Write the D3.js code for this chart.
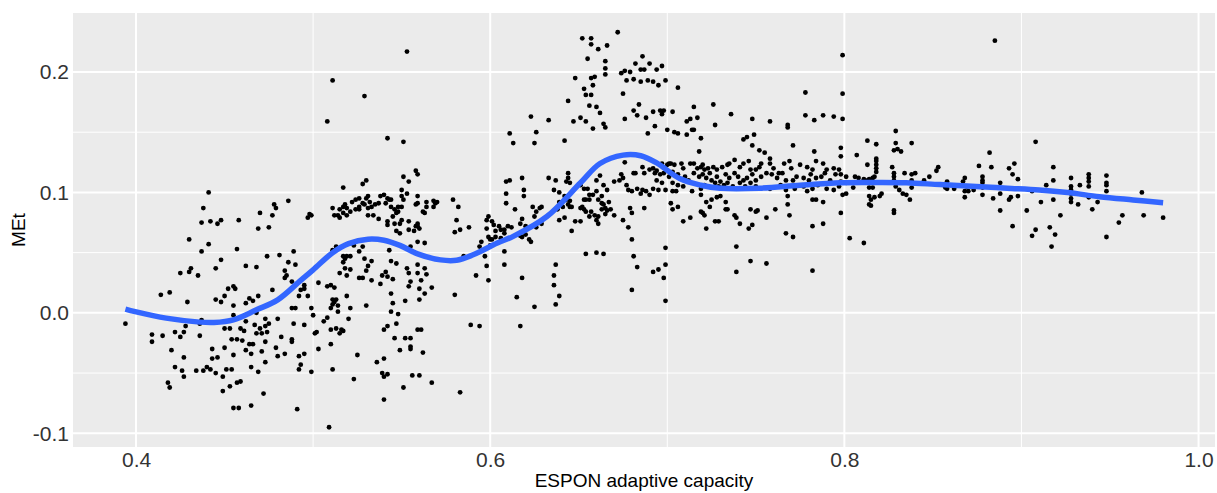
<!DOCTYPE html>
<html>
<head>
<meta charset="utf-8">
<script src="https://cdn.jsdelivr.net/npm/d3@7"></script>
<style>
  html, body { margin: 0; padding: 0; background: #fff; }
  svg { display: block; font-family: "Liberation Sans", Arial, Helvetica, sans-serif; }
</style>
</head>
<body>
<svg id="chart" width="1217" height="493"></svg>
<script>
// ESPON adaptive capacity vs MEt
var points = [
  [0.394,-0.009],[0.441,0.100],[0.438,0.087],[0.437,0.075],[0.442,0.076],[0.446,0.074],[0.448,0.077],[0.458,0.077],[0.430,0.061],[0.441,0.057],
  [0.437,0.051],[0.457,0.053],[0.425,0.033],[0.430,0.034],[0.431,0.037],[0.435,0.031],[0.445,0.037],[0.448,0.044],[0.462,0.039],[0.468,0.038],
  [0.470,0.083],[0.477,0.081],[0.478,0.090],[0.479,0.087],[0.486,0.093],[0.469,0.070],[0.475,0.071],[0.474,0.047],[0.481,0.048],[0.486,0.042],
  [0.489,0.051],[0.484,0.035],[0.490,0.040],[0.484,0.029],[0.485,0.031],[0.414,0.015],[0.419,0.017],[0.429,0.009],[0.452,0.020],[0.455,0.022],
  [0.456,0.020],[0.450,0.014],[0.445,0.011],[0.448,0.009],[0.455,0.006],[0.462,0.008],[0.464,0.012],[0.466,0.010],[0.469,0.014],[0.477,0.019],
  [0.488,0.026],[0.493,0.019],[0.495,0.023],[0.495,0.020],[0.492,0.014],[0.497,0.014],[0.488,0.004],[0.490,0.004],[0.409,-0.018],[0.415,-0.019],
  [0.409,-0.024],[0.422,-0.016],[0.425,-0.020],[0.427,-0.016],[0.428,-0.011],[0.436,-0.009],[0.436,-0.019],[0.437,-0.006],[0.420,-0.031],[0.427,-0.037],
  [0.422,-0.045],[0.426,-0.048],[0.427,-0.053],[0.434,-0.048],[0.438,-0.048],[0.440,-0.045],[0.442,-0.047],[0.445,-0.050],[0.449,-0.053],[0.451,-0.047],
  [0.454,-0.047],[0.418,-0.058],[0.419,-0.062],[0.449,-0.065],[0.453,-0.061],[0.457,-0.058],[0.459,-0.057],[0.472,-0.067],[0.465,-0.077],[0.455,-0.079],
  [0.458,-0.079],[0.491,-0.080],[0.443,-0.030],[0.446,-0.037],[0.443,-0.038],[0.450,-0.029],[0.455,-0.035],[0.454,-0.022],[0.457,-0.022],[0.460,-0.023],
  [0.462,-0.031],[0.465,-0.034],[0.464,-0.026],[0.466,-0.026],[0.469,-0.049],[0.465,-0.045],[0.473,-0.041],[0.471,-0.032],[0.473,-0.024],[0.471,-0.017],
  [0.470,-0.013],[0.450,-0.013],[0.453,-0.013],[0.459,-0.013],[0.461,-0.015],[0.462,-0.007],[0.467,-0.010],[0.468,-0.017],[0.473,-0.011],[0.475,-0.009],
  [0.474,-0.016],[0.480,-0.005],[0.482,-0.020],[0.479,-0.029],[0.484,-0.034],[0.480,-0.036],[0.489,-0.009],[0.495,-0.010],[0.488,-0.022],[0.488,-0.024],
  [0.492,-0.036],[0.495,-0.034],[0.493,-0.043],[0.492,-0.047],[0.455,-0.002],[0.468,0.000],[0.473,-0.005],
  // 0.50 - 0.59
  [0.553,0.217],[0.511,0.193],[0.529,0.180],[0.508,0.159],[0.542,0.145],[0.551,0.142],[0.558,0.118],[0.559,0.115],[0.551,0.113],[0.554,0.109],
  [0.530,0.110],[0.528,0.107],[0.517,0.104],[0.550,0.102],[0.553,0.099],[0.559,0.097],[0.498,0.082],[0.499,0.081],[0.497,0.079],[0.511,0.087],
  [0.514,0.081],[0.515,0.086],[0.517,0.088],[0.518,0.090],[0.519,0.087],[0.517,0.083],[0.519,0.081],[0.521,0.084],[0.522,0.092],[0.524,0.094],
  [0.526,0.095],[0.526,0.088],[0.528,0.091],[0.529,0.090],[0.530,0.095],[0.531,0.097],[0.532,0.092],[0.533,0.088],[0.531,0.087],[0.535,0.090],
  [0.537,0.091],[0.538,0.097],[0.540,0.098],[0.541,0.091],[0.542,0.095],[0.543,0.094],[0.544,0.094],[0.544,0.088],[0.546,0.086],[0.547,0.083],
  [0.545,0.080],[0.548,0.088],[0.550,0.088],[0.550,0.097],[0.551,0.094],[0.558,0.090],[0.559,0.091],[0.564,0.092],[0.564,0.088],[0.568,0.093],
  [0.569,0.091],[0.570,0.092],[0.568,0.088],[0.562,0.084],[0.563,0.083],[0.512,0.081],[0.515,0.079],[0.524,0.086],[0.526,0.086],[0.531,0.081],
  [0.534,0.081],[0.537,0.078],[0.542,0.076],[0.542,0.073],[0.546,0.074],[0.548,0.084],[0.549,0.074],[0.547,0.068],[0.549,0.066],[0.550,0.077],
  [0.554,0.076],[0.558,0.072],[0.559,0.074],[0.559,0.072],[0.554,0.069],[0.557,0.068],[0.560,0.070],[0.559,0.059],[0.563,0.058],[0.579,0.094],
  [0.582,0.088],[0.581,0.077],[0.583,0.069],[0.580,0.067],[0.588,0.071],
  [0.511,0.052],[0.513,0.055],[0.523,0.056],[0.528,0.055],[0.555,0.055],[0.543,0.052],[0.526,0.051],[0.517,0.047],[0.519,0.047],[0.521,0.047],
  [0.518,0.045],[0.517,0.042],[0.521,0.036],[0.518,0.037],[0.515,0.033],[0.519,0.031],[0.529,0.045],[0.533,0.043],[0.531,0.039],[0.530,0.035],
  [0.526,0.029],[0.528,0.029],[0.533,0.027],[0.538,0.024],[0.539,0.031],[0.541,0.034],[0.542,0.030],[0.544,0.043],[0.547,0.041],[0.545,0.028],
  [0.553,0.037],[0.554,0.033],[0.559,0.033],[0.559,0.040],[0.563,0.037],[0.564,0.032],[0.561,0.027],[0.555,0.026],[0.554,0.022],[0.560,0.020],
  [0.563,0.016],[0.567,0.021],[0.560,0.011],[0.552,0.010],[0.544,0.016],[0.545,0.008],[0.544,0.001],[0.548,-0.001],[0.580,0.015],[0.585,0.047],
  [0.592,0.031],[0.503,0.025],[0.508,0.022],[0.510,0.023],[0.512,0.021],[0.511,0.011],[0.511,0.007],[0.513,0.011],[0.514,0.006],[0.514,0.001],
  [0.512,0.009],[0.510,0.004],[0.519,0.014],[0.521,0.004],[0.520,-0.005],[0.530,0.006],[0.499,0.004],[0.500,-0.002],[0.508,-0.004],[0.506,-0.007],
  [0.501,-0.017],[0.502,-0.016],[0.510,-0.014],[0.513,-0.013],[0.515,-0.017],[0.516,-0.014],[0.517,-0.015],[0.540,-0.014],[0.542,-0.011],[0.547,-0.009],
  [0.546,-0.021],[0.552,-0.021],[0.555,-0.021],[0.559,-0.014],[0.561,-0.014],[0.555,-0.028],[0.555,-0.030],[0.549,-0.031],[0.562,-0.033],[0.589,-0.010],
  [0.594,-0.011],[0.503,-0.030],[0.510,-0.026],[0.525,-0.035],[0.536,-0.041],[0.540,-0.038],[0.499,-0.049],[0.511,-0.047],[0.539,-0.050],[0.540,-0.053],
  [0.542,-0.051],[0.523,-0.055],[0.556,-0.052],[0.560,-0.052],[0.567,-0.058],[0.551,-0.062],[0.540,-0.072],[0.583,-0.066],[0.509,-0.095],
  // 0.59 - 0.70
  [0.611,0.149],[0.613,0.141],[0.626,0.150],[0.625,0.141],[0.642,0.143],[0.665,0.154],[0.658,0.153],[0.689,0.149],[0.693,0.155],[0.700,0.152],
  [0.609,0.109],[0.611,0.110],[0.618,0.112],[0.633,0.112],[0.637,0.110],[0.644,0.116],[0.644,0.112],[0.643,0.109],[0.645,0.108],[0.609,0.099],
  [0.609,0.091],[0.619,0.102],[0.619,0.097],[0.614,0.086],[0.624,0.088],[0.629,0.088],[0.628,0.087],[0.626,0.084],[0.625,0.080],[0.636,0.102],
  [0.639,0.100],[0.642,0.097],[0.643,0.094],[0.644,0.090],[0.641,0.088],[0.645,0.093],[0.645,0.088],[0.646,0.088],[0.638,0.086],[0.639,0.092],
  [0.651,0.106],[0.653,0.103],[0.655,0.103],[0.656,0.098],[0.654,0.094],[0.652,0.088],[0.653,0.094],[0.656,0.094],[0.658,0.098],[0.660,0.110],
  [0.662,0.114],[0.664,0.106],[0.666,0.102],[0.660,0.101],[0.661,0.094],[0.663,0.097],[0.664,0.090],[0.651,0.087],[0.653,0.086],[0.654,0.084],
  [0.657,0.084],[0.656,0.080],[0.659,0.081],[0.660,0.077],[0.661,0.074],[0.661,0.080],[0.663,0.086],[0.665,0.087],[0.665,0.082],[0.666,0.085],
  [0.668,0.086],[0.670,0.081],[0.667,0.092],[0.663,0.091],[0.618,0.078],[0.617,0.074],[0.620,0.072],[0.626,0.071],[0.629,0.074],[0.639,0.077],
  [0.642,0.079],[0.648,0.076],[0.651,0.076],[0.646,0.068],[0.670,0.109],[0.673,0.110],[0.674,0.115],[0.675,0.112],[0.677,0.106],[0.678,0.102],
  [0.680,0.101],[0.682,0.116],[0.683,0.103],[0.685,0.099],[0.686,0.102],[0.688,0.101],[0.690,0.098],[0.692,0.103],[0.695,0.102],[0.680,0.083],
  [0.679,0.087],[0.687,0.087],[0.675,0.077],[0.676,0.125],[0.681,0.116],[0.686,0.121],[0.687,0.116],[0.690,0.119],[0.692,0.120],[0.694,0.118],
  [0.693,0.116],[0.694,0.110],[0.696,0.115],[0.698,0.116],[0.697,0.108],[0.699,0.102],[0.701,0.113],[0.697,0.124],[0.700,0.123],[0.701,0.124],
  [0.599,0.080],[0.598,0.077],[0.601,0.076],[0.598,0.070],[0.602,0.073],[0.605,0.072],[0.606,0.069],[0.603,0.068],[0.608,0.069],[0.610,0.072],
  [0.612,0.071],[0.599,0.063],[0.600,0.061],[0.600,0.056],[0.601,0.061],[0.603,0.063],[0.606,0.062],[0.608,0.066],[0.617,0.064],[0.618,0.063],
  [0.620,0.065],[0.622,0.061],[0.623,0.059],[0.595,0.059],[0.594,0.055],
  [0.597,0.047],[0.598,0.039],[0.599,0.027],[0.608,0.051],[0.608,0.040],[0.618,0.029],[0.615,0.013],[0.625,0.005],[0.617,-0.011],[0.637,0.040],
  [0.636,0.031],[0.636,0.023],[0.639,0.014],[0.637,0.007],[0.654,0.049],[0.660,0.050],[0.664,0.049],[0.680,0.061],[0.680,0.019],[0.681,0.047],
  [0.683,0.038],[0.678,0.071],[0.699,0.054],[0.699,0.040],[0.698,0.029],[0.699,0.010],[0.692,0.034],[0.695,0.036],
  [0.672,0.233],[0.652,0.228],[0.657,0.228],[0.657,0.223],[0.661,0.219],[0.666,0.222],[0.655,0.211],[0.665,0.209],[0.665,0.203],[0.665,0.198],
  [0.648,0.195],[0.657,0.195],[0.659,0.196],[0.653,0.186],[0.658,0.189],[0.654,0.181],[0.657,0.181],[0.644,0.176],[0.656,0.172],[0.660,0.171],
  [0.662,0.166],[0.623,0.163],[0.633,0.160],[0.647,0.159],[0.651,0.162],[0.654,0.159],[0.664,0.157],[0.674,0.199],[0.676,0.201],[0.679,0.200],
  [0.682,0.207],[0.686,0.213],[0.685,0.202],[0.687,0.202],[0.690,0.207],[0.694,0.202],[0.697,0.205],[0.677,0.193],[0.681,0.194],[0.685,0.192],
  [0.689,0.193],[0.692,0.192],[0.695,0.189],[0.699,0.193],[0.706,0.187],[0.675,0.182],[0.684,0.173],[0.681,0.168],[0.683,0.164],[0.676,0.161],
  [0.688,0.162],[0.692,0.167],[0.696,0.168],[0.698,0.168],[0.697,0.165],[0.703,0.167],[0.711,0.159],[0.713,0.161],[0.717,0.162],[0.715,0.171],
  [0.726,0.173],[0.736,0.165],[0.727,0.156],[0.748,0.161],[0.758,0.159],[0.768,0.156],[0.768,0.154],[0.778,0.183],[0.799,0.182],[0.799,0.214],
  [0.778,0.164],[0.783,0.160],[0.788,0.164],[0.794,0.163],[0.799,0.161],[0.885,0.226],[0.908,0.142],
  // 0.70 - 0.80
  [0.704,0.150],[0.706,0.149],[0.711,0.148],[0.714,0.152],[0.715,0.152],[0.719,0.145],[0.749,0.148],[0.743,0.144],[0.745,0.146],[0.748,0.139],
  [0.752,0.135],[0.755,0.133],[0.758,0.128],[0.771,0.139],[0.783,0.134],[0.798,0.137],[0.798,0.130],[0.718,0.134],
  [0.702,0.124],[0.704,0.123],[0.708,0.124],[0.709,0.120],[0.713,0.124],[0.715,0.124],[0.717,0.120],[0.719,0.121],[0.720,0.123],[0.721,0.119],
  [0.723,0.120],[0.724,0.116],[0.726,0.121],[0.728,0.119],[0.731,0.121],[0.734,0.123],[0.735,0.124],[0.738,0.127],[0.741,0.121],[0.743,0.124],
  [0.746,0.126],[0.747,0.119],[0.750,0.119],[0.752,0.121],[0.753,0.124],[0.758,0.124],[0.760,0.120],[0.763,0.116],[0.766,0.124],[0.769,0.126],
  [0.770,0.120],[0.775,0.123],[0.779,0.121],[0.782,0.119],[0.784,0.126],[0.788,0.124],[0.790,0.119],[0.794,0.120],[0.797,0.119],[0.798,0.115],
  [0.801,0.113],
  [0.703,0.117],[0.706,0.115],[0.710,0.113],[0.712,0.110],[0.715,0.116],[0.718,0.113],[0.720,0.115],[0.722,0.112],[0.725,0.110],[0.728,0.113],
  [0.730,0.109],[0.733,0.115],[0.735,0.112],[0.738,0.116],[0.740,0.113],[0.743,0.110],[0.745,0.112],[0.748,0.115],[0.750,0.110],[0.753,0.113],
  [0.756,0.116],[0.759,0.115],[0.762,0.112],[0.765,0.116],[0.767,0.110],[0.771,0.110],[0.773,0.113],[0.777,0.112],[0.780,0.110],[0.781,0.115],
  [0.784,0.112],[0.787,0.113],[0.789,0.116],[0.792,0.110],[0.795,0.115],[0.798,0.109],[0.801,0.108],
  [0.703,0.108],[0.706,0.106],[0.709,0.105],[0.705,0.101],[0.703,0.101],[0.714,0.101],[0.719,0.103],[0.721,0.106],[0.727,0.108],[0.729,0.105],
  [0.732,0.106],[0.734,0.108],[0.737,0.105],[0.741,0.108],[0.744,0.105],[0.747,0.108],[0.750,0.105],[0.758,0.103],[0.764,0.106],[0.767,0.102],
  [0.772,0.103],[0.777,0.105],[0.779,0.101],[0.782,0.103],[0.785,0.106],[0.790,0.103],[0.794,0.102],[0.797,0.105],[0.799,0.098],[0.801,0.099],
  [0.702,0.091],[0.703,0.086],[0.706,0.088],[0.719,0.098],[0.722,0.092],[0.719,0.084],[0.721,0.081],[0.724,0.088],[0.725,0.094],[0.728,0.096],
  [0.730,0.097],[0.733,0.092],[0.733,0.086],[0.734,0.086],[0.720,0.083],[0.709,0.076],[0.713,0.079],[0.722,0.070],[0.727,0.076],[0.729,0.076],
  [0.738,0.081],[0.739,0.079],[0.741,0.074],[0.746,0.070],[0.748,0.073],[0.747,0.086],[0.750,0.084],[0.751,0.085],[0.756,0.079],[0.761,0.086],
  [0.768,0.097],[0.768,0.090],[0.769,0.081],[0.782,0.094],[0.784,0.094],[0.788,0.092],[0.788,0.074],[0.782,0.072],[0.767,0.066],[0.771,0.063],
  [0.798,0.083],[0.739,0.055],[0.739,0.034],[0.747,0.043],[0.756,0.041],[0.782,0.035],
  // 0.80 - 0.89
  [0.807,0.131],[0.813,0.143],[0.818,0.140],[0.818,0.128],[0.818,0.126],[0.818,0.123],[0.818,0.120],[0.818,0.117],[0.817,0.113],[0.813,0.123],
  [0.816,0.112],[0.806,0.113],[0.808,0.112],[0.811,0.111],[0.813,0.110],[0.814,0.111],[0.805,0.104],[0.814,0.104],[0.816,0.104],[0.814,0.097],
  [0.815,0.094],[0.817,0.096],[0.814,0.090],[0.815,0.089],[0.820,0.097],[0.821,0.099],[0.803,0.062],[0.811,0.058],[0.827,0.121],[0.828,0.116],
  [0.828,0.113],[0.828,0.110],[0.829,0.105],[0.830,0.136],[0.828,0.135],[0.832,0.134],[0.829,0.141],[0.829,0.151],[0.831,0.102],[0.833,0.099],
  [0.835,0.098],[0.828,0.085],[0.828,0.083],[0.834,0.116],[0.838,0.141],[0.838,0.115],[0.838,0.110],[0.838,0.104],[0.840,0.116],[0.837,0.094],
  [0.845,0.110],[0.848,0.113],[0.852,0.118],[0.853,0.121],[0.858,0.109],[0.857,0.104],[0.858,0.103],[0.862,0.103],[0.867,0.109],[0.868,0.112],
  [0.869,0.105],[0.868,0.101],[0.868,0.096],[0.870,0.101],[0.873,0.102],[0.876,0.122],[0.878,0.113],[0.878,0.110],[0.878,0.108],[0.878,0.104],
  [0.878,0.098],[0.883,0.121],[0.882,0.133],[0.884,0.095],[0.888,0.108],[0.888,0.099],[0.888,0.085],[0.893,0.094],
  // 0.89 - 0.98
  [0.893,0.120],[0.896,0.124],[0.895,0.115],[0.898,0.111],[0.894,0.096],[0.898,0.097],[0.895,0.072],[0.903,0.085],[0.906,0.064],[0.908,0.069],
  [0.916,0.071],[0.917,0.055],[0.919,0.065],[0.922,0.081],[0.918,0.121],[0.918,0.110],[0.914,0.106],[0.918,0.094],[0.911,0.092],[0.906,0.101],
  [0.928,0.112],[0.928,0.105],[0.928,0.102],[0.928,0.099],[0.928,0.095],[0.928,0.092],[0.932,0.090],[0.933,0.106],[0.938,0.115],[0.938,0.112],
  [0.938,0.109],[0.938,0.105],[0.938,0.096],[0.940,0.086],[0.943,0.092],[0.948,0.114],[0.948,0.108],[0.948,0.106],[0.948,0.101],[0.948,0.063],
  [0.955,0.075],[0.957,0.081],[0.968,0.100],[0.969,0.081],[0.980,0.079]
];

// loess smooth, sampled off the blue curve
var smoothX = [0.394,0.3995,0.417,0.436,0.444,0.455,0.468,0.480,0.493,0.500,0.511,0.520,0.531,0.540,0.549,
               0.559,0.572,0.581,0.590,0.604,0.613,0.632,0.651,0.662,0.675,0.685,0.694,0.707,0.719,0.730,
               0.752,0.775,0.798,0.816,0.835,0.854,0.877,0.892,0.910,0.926,0.944,0.963,0.980];
var smoothY = [0.0031,0.0010,-0.0044,-0.0077,-0.0080,-0.0058,0.0025,0.0108,0.0270,0.0357,0.0500,0.0575,0.0612,0.0603,0.0560,
               0.0490,0.0440,0.0437,0.0480,0.0580,0.0635,0.0800,0.1080,0.1240,0.1310,0.1305,0.1245,0.1115,0.1060,0.1035,
               0.1035,0.1060,0.1080,0.1082,0.1080,0.1065,0.1048,0.1035,0.1020,0.0999,0.0965,0.0938,0.0915];

var xTicks = [0.4, 0.6, 0.8, 1.0];
var xMinor = [0.5, 0.7, 0.9];
var yTicks = [-0.1, 0.0, 0.1, 0.2];
var yMinor = [-0.05, 0.05, 0.15];

var xTitle = "ESPON adaptive capacity";
var yTitle = "MEt";

var W = 1217, H = 493;
var panel = { left: 73, right: 1215, top: 13, bottom: 447 };

var svg = d3.select("#chart");

svg.append("rect")
  .attr("width", W).attr("height", H)
  .attr("fill", "#fff");

var x = d3.scaleLinear()
  .domain([0.3644, 1.0093])
  .range([panel.left, panel.right]);

var y = d3.scaleLinear()
  .domain([-0.1114, 0.2490])
  .range([panel.bottom, panel.top]);

// plain hyphen for negatives, like the R output
var fmt = function(d) { return d3.format(".1f")(d).replace("\u2212", "-"); };

// ── Panel and grid ─────────────────────────────────────────

svg.append("rect")
  .attr("x", panel.left).attr("y", panel.top)
  .attr("width", panel.right - panel.left)
  .attr("height", panel.bottom - panel.top)
  .attr("fill", "#ebebeb");

var grid = svg.append("g");

function gridLines(vals, vertical, width) {
  vals.forEach(function(v) {
    if (vertical) {
      grid.append("line")
        .attr("x1", x(v)).attr("x2", x(v))
        .attr("y1", panel.top).attr("y2", panel.bottom)
        .attr("stroke", "#fff").attr("stroke-width", width);
    } else {
      grid.append("line")
        .attr("x1", panel.left).attr("x2", panel.right)
        .attr("y1", y(v)).attr("y2", y(v))
        .attr("stroke", "#fff").attr("stroke-width", width);
    }
  });
}

gridLines(xMinor, true, 1);
gridLines(yMinor, false, 1);
gridLines(xTicks, true, 2);
gridLines(yTicks, false, 2);

// ── Points ────────────────────────────────────────────────

svg.append("g")
  .selectAll("circle")
  .data(points)
  .join("circle")
  .attr("cx", function(d) { return x(d[0]); })
  .attr("cy", function(d) { return y(d[1]); })
  .attr("r", 2.4)
  .attr("fill", "#000");

// ── Smooth ────────────────────────────────────────────────

var smooth = smoothX.map(function(v, i) { return [v, smoothY[i]]; });

svg.append("path")
  .datum(smooth)
  .attr("fill", "none")
  .attr("stroke", "#3366ff")
  .attr("stroke-width", 5.5)
  .attr("stroke-linecap", "butt")
  .attr("d", d3.line()
    .x(function(d) { return x(d[0]); })
    .y(function(d) { return y(d[1]); })
    .curve(d3.curveCatmullRom.alpha(0.5)));

// ── Axes ──────────────────────────────────────────────────

var fs = 21;

svg.append("g")
  .attr("transform", "translate(0," + panel.bottom + ")")
  .call(d3.axisBottom(x).tickValues(xTicks).tickSize(0).tickPadding(5)
    .tickFormat(fmt))
  .call(function(g) { g.select(".domain").remove(); })
  .call(function(g) {
    g.selectAll("text")
      .style("font-size", fs + "px")
      .style("font-family", "'Liberation Sans', Arial, sans-serif")
      .attr("fill", "#333");
  });

svg.append("g")
  .attr("transform", "translate(" + panel.left + ",0)")
  .call(d3.axisLeft(y).tickValues(yTicks).tickSize(0).tickPadding(4)
    .tickFormat(fmt))
  .call(function(g) { g.select(".domain").remove(); })
  .call(function(g) {
    g.selectAll("text")
      .style("font-size", fs + "px")
      .style("font-family", "'Liberation Sans', Arial, sans-serif")
      .attr("fill", "#333");
  });

svg.append("text")
  .attr("x", (panel.left + panel.right) / 2)
  .attr("y", 487)
  .attr("text-anchor", "middle")
  .style("font-size", "19px")
  .attr("fill", "#000")
  .text(xTitle);

svg.append("text")
  .attr("transform", "translate(25," + ((panel.top + panel.bottom) / 2) + ") rotate(-90)")
  .attr("text-anchor", "middle")
  .style("font-size", "19px")
  .attr("fill", "#000")
  .text(yTitle);
</script>
</body>
</html>
